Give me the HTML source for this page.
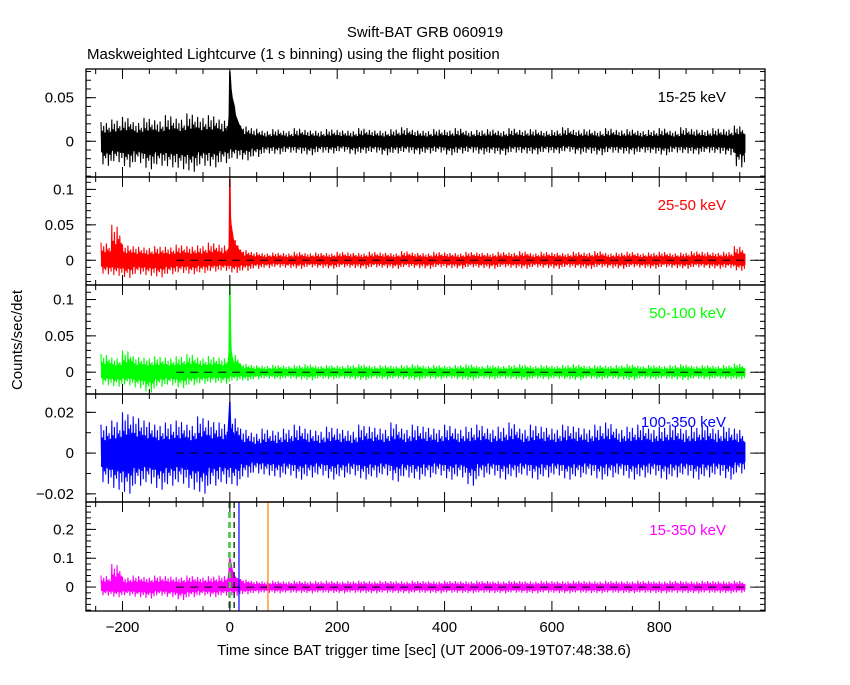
<!DOCTYPE html>
<html><head><meta charset="utf-8"><style>
body{margin:0;background:#fff}
svg text{font-family:"Liberation Sans",sans-serif;font-size:15px}
</style></head><body>
<svg id="c" width="850" height="680" xmlns="http://www.w3.org/2000/svg">
<rect width="850" height="680" fill="#fff"/>
<text x="425" y="37" text-anchor="middle">Swift-BAT GRB 060919</text>
<text x="87" y="59">Maskweighted Lightcurve (1 s binning) using the flight position</text>
<text x="424" y="655" text-anchor="middle">Time since BAT trigger time [sec] (UT 2006-09-19T07:48:38.6)</text>
<text transform="translate(22,340) rotate(-90)" text-anchor="middle">Counts/sec/det</text>
</svg>
<script>
const binStart = -240, binWidth = 20;
const hi1=[0.022,0.025,0.028,0.022,0.027,0.024,0.030,0.026,0.032,0.028,0.030,0.025,0.025,0.018,0.015,0.012,0.014,0.012,0.015,0.013,0.012,0.014,0.013,0.012,0.015,0.013,0.012,0.014,0.016,0.013,0.012,0.014,0.013,0.015,0.012,0.013,0.014,0.012,0.015,0.013,0.014,0.012,0.013,0.016,0.013,0.014,0.012,0.015,0.013,0.014,0.012,0.013,0.015,0.012,0.016,0.014,0.013,0.015,0.014,0.018];
const lo1=[-0.028,-0.024,-0.030,-0.025,-0.032,-0.028,-0.030,-0.032,-0.035,-0.028,-0.030,-0.025,-0.020,-0.022,-0.018,-0.014,-0.015,-0.013,-0.014,-0.016,-0.013,-0.014,-0.012,-0.015,-0.014,-0.013,-0.016,-0.014,-0.013,-0.015,-0.014,-0.013,-0.016,-0.014,-0.013,-0.015,-0.014,-0.016,-0.013,-0.014,-0.015,-0.013,-0.014,-0.012,-0.015,-0.014,-0.016,-0.013,-0.014,-0.015,-0.013,-0.014,-0.016,-0.013,-0.014,-0.015,-0.013,-0.014,-0.016,-0.030];
const hi2=[0.025,0.050,0.022,0.020,0.018,0.020,0.019,0.022,0.020,0.021,0.025,0.022,0.030,0.015,0.012,0.010,0.011,0.010,0.012,0.010,0.011,0.010,0.012,0.011,0.010,0.012,0.011,0.010,0.013,0.011,0.010,0.012,0.011,0.010,0.012,0.011,0.010,0.012,0.011,0.013,0.010,0.012,0.011,0.010,0.012,0.011,0.013,0.010,0.011,0.012,0.010,0.011,0.012,0.010,0.011,0.013,0.012,0.011,0.012,0.020];
const lo2=[-0.020,-0.022,-0.025,-0.020,-0.022,-0.024,-0.020,-0.018,-0.020,-0.018,-0.016,-0.015,-0.018,-0.015,-0.012,-0.011,-0.010,-0.011,-0.012,-0.010,-0.011,-0.012,-0.010,-0.011,-0.012,-0.010,-0.011,-0.012,-0.010,-0.011,-0.012,-0.010,-0.011,-0.012,-0.010,-0.011,-0.012,-0.010,-0.011,-0.012,-0.010,-0.011,-0.012,-0.010,-0.011,-0.012,-0.010,-0.011,-0.012,-0.010,-0.011,-0.012,-0.010,-0.011,-0.012,-0.010,-0.011,-0.012,-0.011,-0.015];
const hi3=[0.025,0.020,0.030,0.022,0.020,0.022,0.020,0.022,0.025,0.020,0.022,0.020,0.025,0.012,0.010,0.009,0.010,0.009,0.010,0.011,0.009,0.010,0.009,0.010,0.011,0.009,0.010,0.009,0.010,0.011,0.009,0.010,0.009,0.010,0.011,0.009,0.010,0.009,0.010,0.011,0.009,0.010,0.009,0.010,0.011,0.009,0.010,0.009,0.010,0.011,0.009,0.010,0.009,0.010,0.011,0.009,0.010,0.009,0.010,0.012];
const lo3=[-0.018,-0.020,-0.018,-0.022,-0.028,-0.020,-0.018,-0.022,-0.018,-0.016,-0.015,-0.016,-0.012,-0.012,-0.010,-0.009,-0.010,-0.009,-0.010,-0.011,-0.009,-0.010,-0.009,-0.010,-0.011,-0.009,-0.010,-0.009,-0.010,-0.011,-0.009,-0.010,-0.009,-0.010,-0.011,-0.009,-0.010,-0.009,-0.010,-0.011,-0.009,-0.010,-0.009,-0.010,-0.011,-0.009,-0.010,-0.009,-0.010,-0.011,-0.009,-0.010,-0.009,-0.010,-0.011,-0.009,-0.010,-0.009,-0.010,-0.010];
const hi4=[0.014,0.016,0.020,0.018,0.016,0.014,0.015,0.016,0.014,0.018,0.016,0.015,0.018,0.012,0.010,0.012,0.011,0.012,0.014,0.012,0.011,0.013,0.012,0.011,0.014,0.013,0.012,0.015,0.012,0.014,0.013,0.012,0.014,0.012,0.013,0.014,0.012,0.013,0.015,0.012,0.014,0.013,0.012,0.014,0.013,0.012,0.014,0.015,0.012,0.013,0.014,0.012,0.013,0.014,0.012,0.013,0.014,0.012,0.013,0.012];
const lo4=[-0.015,-0.018,-0.020,-0.016,-0.015,-0.018,-0.016,-0.015,-0.018,-0.020,-0.016,-0.015,-0.016,-0.012,-0.010,-0.011,-0.012,-0.011,-0.013,-0.012,-0.011,-0.013,-0.012,-0.011,-0.013,-0.012,-0.011,-0.014,-0.012,-0.013,-0.012,-0.011,-0.013,-0.012,-0.016,-0.012,-0.011,-0.013,-0.012,-0.011,-0.013,-0.012,-0.011,-0.013,-0.012,-0.011,-0.013,-0.012,-0.011,-0.013,-0.012,-0.011,-0.013,-0.012,-0.011,-0.013,-0.012,-0.011,-0.013,-0.010];
const hi5=[0.040,0.080,0.035,0.040,0.035,0.040,0.038,0.035,0.040,0.035,0.038,0.040,0.040,0.028,0.022,0.020,0.022,0.020,0.022,0.020,0.021,0.022,0.020,0.021,0.022,0.020,0.022,0.021,0.020,0.022,0.021,0.020,0.022,0.021,0.020,0.022,0.021,0.020,0.022,0.021,0.020,0.022,0.021,0.020,0.022,0.021,0.020,0.022,0.021,0.020,0.022,0.021,0.020,0.022,0.021,0.020,0.022,0.021,0.020,0.022];
const lo5=[-0.030,-0.035,-0.030,-0.035,-0.040,-0.030,-0.035,-0.045,-0.035,-0.030,-0.035,-0.030,-0.030,-0.025,-0.022,-0.020,-0.022,-0.020,-0.021,-0.022,-0.020,-0.021,-0.022,-0.020,-0.021,-0.022,-0.020,-0.021,-0.022,-0.020,-0.021,-0.022,-0.020,-0.021,-0.022,-0.020,-0.021,-0.022,-0.020,-0.021,-0.022,-0.020,-0.021,-0.022,-0.020,-0.021,-0.022,-0.020,-0.021,-0.022,-0.020,-0.021,-0.022,-0.020,-0.021,-0.022,-0.020,-0.021,-0.022,-0.020];
const burstT=[-3,-1,0,1,2,3,4,6,8,10,13,16,20,25];
const burst1=[0.010,0.030,0.080,0.070,0.060,0.055,0.050,0.045,0.040,0.030,0.025,0.020,0.015,0.010];
const burst2=[0.010,0.020,0.115,0.060,0.050,0.045,0.040,0.030,0.025,0.020,0.020,0.015,0.010,0.010];
const burst3=[0.010,0.030,0.120,0.060,0.030,0.025,0.020,0.015,0.010,0.010,0.010,0.010,0.008,0.005];
const burst4=[0.010,0.020,0.025,0.015,0.010,0.012,0.010,0.010,0.008,0.008,0.006,0.006,0.005,0.005];
const burst5=[0.030,0.060,0.100,0.090,0.080,0.070,0.060,0.050,0.040,0.030,0.030,0.025,0.020,0.015];
const xTicks=[-200,0,200,400,600,800];
const markerT=[-1,0,8,17,71];

const svg=document.getElementById('c');
const NS='http://www.w3.org/2000/svg';
const X0=86,X1=765,T0=-268,T1=997;
const xs=t=>X0+(t-T0)/(T1-T0)*(X1-X0);
function el(tag,a,p){const e=document.createElementNS(NS,tag);for(const k in a)e.setAttribute(k,a[k]);(p||svg).appendChild(e);return e;}

const panels=[
 {top:69,bot:177,ymax:0.0829,ymin:-0.041,major:[0,0.05],lab:['0','0.05'],minor:0.01,hi:hi1,lo:lo1,burst:burst1,col:'#000',name:'15-25 keV',zero:false},
 {top:177,bot:285,ymax:0.1175,ymin:-0.0349,major:[0,0.05,0.1],lab:['0','0.05','0.1'],minor:0.01,hi:hi2,lo:lo2,burst:burst2,col:'#f00',name:'25-50 keV',zero:true},
 {top:285,bot:394,ymax:0.120,ymin:-0.030,major:[0,0.05,0.1],lab:['0','0.05','0.1'],minor:0.01,hi:hi3,lo:lo3,burst:burst3,col:'#0f0',name:'50-100 keV',zero:true},
 {top:394,bot:502,ymax:0.029,ymin:-0.024,major:[-0.02,0,0.02],lab:['\u22120.02','0','0.02'],minor:0.01,hi:hi4,lo:lo4,burst:burst4,col:'#00f',name:'100-350 keV',zero:true},
 {top:502,bot:611,ymax:0.295,ymin:-0.083,major:[0,0.1,0.2],lab:['0','0.1','0.2'],minor:0.02,hi:hi5,lo:lo5,burst:burst5,col:'#f0f',name:'15-350 keV',zero:true}
];
const zig=[1,0.55,0.8,0.45,0.95,0.6,0.7,0.5];
panels.forEach((p,pi)=>{
 const ys=v=>p.bot-(v-p.ymin)/(p.ymax-p.ymin)*(p.bot-p.top);
 const g=el('g',{});
 
 
 const mid=[];
 p.hi.forEach((h,i)=>{
  const t=binStart+i*binWidth;
  const r=el('rect',{x:xs(t),y:ys(h*0.45),width:xs(t+binWidth)-xs(t)+0.3,height:ys(p.lo[i]*0.45)-ys(h*0.45),fill:p.col},g);
  
  
  for(let k=0;k<8;k++){
   const tt=t+k*binWidth/8;
   mid.push(xs(tt).toFixed(1)+','+ys(h*zig[k]).toFixed(1));
   mid.push(xs(tt+binWidth/16).toFixed(1)+','+ys(p.lo[i]*zig[(k+3)%8]).toFixed(1));
  }
 });
 const nl=el('polyline',{points:mid.join(' '),fill:'none',stroke:p.col,'stroke-width':1.1},g);
 
 
 const pts=burstT.map((t,i)=>xs(t)+','+ys(p.burst[i])).join(' ')+' '+burstT.slice().reverse().map(t=>xs(t)+','+ys(0)).join(' ');
 const b=el('polygon',{points:pts,fill:p.col,stroke:p.col,'stroke-width':1.5},g);
 
 
 if(p.zero){
  const z=el('line',{x1:xs(-100),x2:X1,y1:ys(0),y2:ys(0),stroke:'#000','stroke-dasharray':'8,6'},g);
  
  
 }
 if(pi===4){
  const mc=['#f0f','#0f0','#000','#00f','#ff8000'];
  const md=['6,4','6,4','6,4','',''];
  markerT.forEach((t,i)=>{
   const m=el('line',{x1:xs(t),x2:xs(t),y1:p.top,y2:p.bot,stroke:mc[i],'stroke-width':i<2?2:1.2,'stroke-dasharray':md[i]},g);
   
   
  });
 }
 const fr=el('rect',{x:X0,y:p.top,width:X1-X0,height:p.bot-p.top,fill:'none',stroke:'#000','stroke-width':1.3},g);
 
 
 for(let v=Math.ceil(p.ymin/p.minor)*p.minor;v<=p.ymax;v+=p.minor){
  el('line',{x1:X0,x2:X0+5,y1:ys(v),y2:ys(v),stroke:'#000'},g);
  el('line',{x1:X1,x2:X1-5,y1:ys(v),y2:ys(v),stroke:'#000'},g);
 }
 p.major.forEach((v,i)=>{
  el('line',{x1:X0,x2:X0+10,y1:ys(v),y2:ys(v),stroke:'#000'},g);
  el('line',{x1:X1,x2:X1-10,y1:ys(v),y2:ys(v),stroke:'#000'},g);
  const tx=el('text',{x:X0-12,y:ys(v)+5,'text-anchor':'end'},g);
  tx.textContent=p.lab[i];
  
  
 });
 for(let t=-250;t<=950;t+=50){
  const L=(t%200===0)?10:5;
  el('line',{x1:xs(t),x2:xs(t),y1:p.top,y2:p.top+L,stroke:'#000'},g);
  el('line',{x1:xs(t),x2:xs(t),y1:p.bot,y2:p.bot-L,stroke:'#000'},g);
 }
 const nt=el('text',{x:726,y:p.top+33,'text-anchor':'end',fill:p.col},g);
 nt.textContent=p.name;
 
 
});
xTicks.forEach(t=>{
 const tx=el('text',{x:xs(t),y:632,'text-anchor':'middle'});
 tx.textContent=t<0?'\u2212'+(-t):String(t);
 
 
});
</script>
</body></html>
